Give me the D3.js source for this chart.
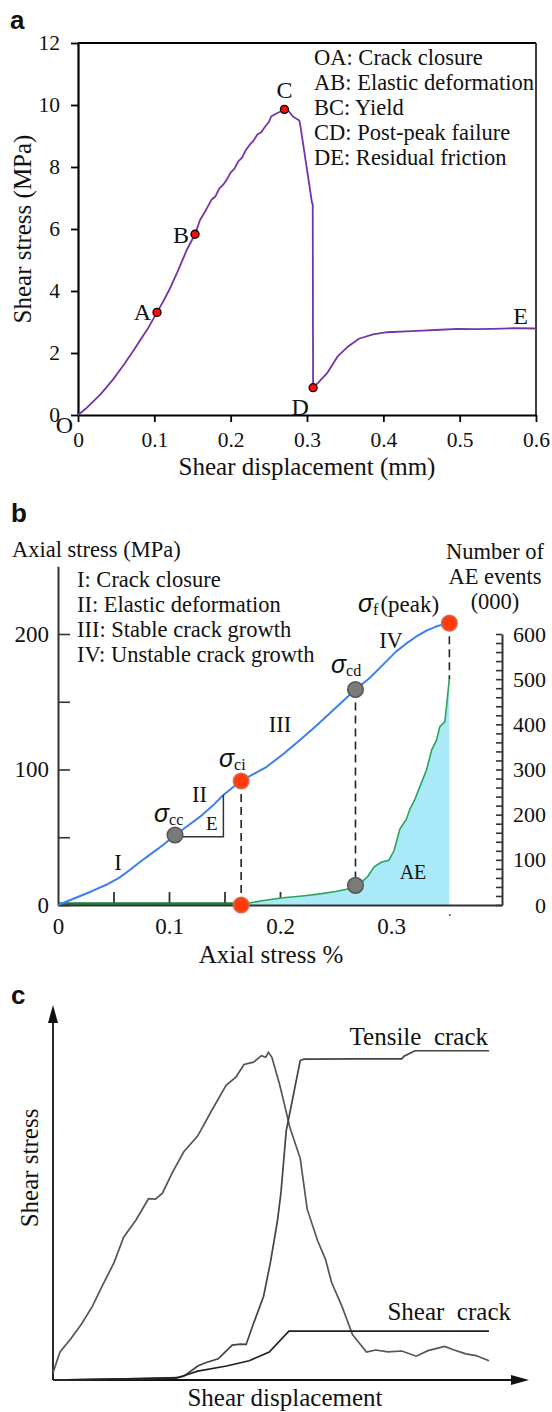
<!DOCTYPE html>
<html><head><meta charset="utf-8">
<script src="https://cdn.jsdelivr.net/npm/d3@7"></script>
<style>
body{margin:0;background:#fff;}
svg{display:block;}
text{font-family:"Liberation Serif","Times New Roman",serif;fill:#111;}
.plbl{font-family:"Liberation Sans",Arial,sans-serif;font-weight:bold;font-size:26px;}
</style></head><body>
<svg id="chart" width="552" height="1412"></svg>
<script>
// ---------- Panel a data ----------
const aDisp   = [0,0.01,0.0184,0.03,0.046,0.06,0.0736,0.085,0.092,0.1035,0.112,0.1196,0.13,0.1426,0.1533,0.16,0.165,0.17,0.175,0.18,0.185,0.19,0.195,0.2,0.205,0.21,0.215,0.22,0.225,0.23,0.235,0.24,0.245,0.25,0.253,0.258,0.262,0.266,0.2704,0.276,0.282,0.29,0.2915,0.3065,0.3075,0.308,0.315,0.3267,0.3405,0.3543,0.368,0.3865,0.405,0.43,0.451,0.475,0.497,0.52,0.543,0.57,0.6];
const aStress = [0,0.2,0.40,0.68,1.15,1.62,2.11,2.55,2.81,3.31,3.68,4.04,4.6,5.33,5.83,6.3,6.5,6.72,6.95,7.05,7.3,7.42,7.6,7.82,7.95,8.18,8.3,8.55,8.72,8.85,9.05,9.12,9.3,9.45,9.63,9.7,9.75,9.8,9.86,9.8,9.62,9.5,9.3,6.85,6.8,0.88,1.05,1.36,1.9,2.22,2.46,2.6,2.67,2.7,2.72,2.75,2.78,2.77,2.78,2.8,2.79];
const aPointNames = ["A","B","C","D"];
const aPointX = [0.1035,0.1533,0.2704,0.308];
const aPointY = [3.31,5.83,9.86,0.88];
const aXTicks = [0,0.1,0.2,0.3,0.4,0.5,0.6];
const aYTicks = [0,2,4,6,8,10,12];
const aPhases = ["OA: Crack closure","AB: Elastic deformation","BC: Yield","CD: Post-peak failure","DE: Residual friction"];

// ---------- Panel b data ----------
const bStrain = [0,0.015,0.03,0.045,0.055,0.065,0.075,0.085,0.095,0.1054,0.117,0.128,0.139,0.149,0.1637,0.176,0.188,0.203,0.218,0.233,0.248,0.268,0.28,0.29,0.3045,0.313,0.3225,0.332,0.3405,0.348,0.3526];
const bStress = [0,5,10,15.5,20,26,32.5,38.5,44.5,51.7,58.5,65.2,73,81.2,91,96.5,102,111.5,121.8,132.5,143.9,159,167,175,187,192.5,198,202.5,205.5,207.3,208];
const aeStrain = [0,0.165,0.171,0.185,0.203,0.22,0.2345,0.25,0.26,0.268,0.274,0.279,0.285,0.2916,0.298,0.3027,0.308,0.3138,0.317,0.3217,0.326,0.332,0.3366,0.341,0.344,0.3485,0.350,0.3515,0.3525,0.3525];
const aeCount  = [0,0,4,10,16,20,24,30,35,43,52,63,85,95,99,120,168,190,212,235,262,299,343,365,395,406,439,476,500,0];
const keyNames  = ["cc","ci","cd","f"];
const keyStrain = [0.1054,0.165,0.268,0.3526];
const keyStress = [51.7,91.5,159,208];
const keyColor  = ["gray","orange","gray","orange"];
const aeMarkStrain = [0.165,0.268];
const aeMarkCount  = [0,43.5];
const aeMarkColor  = ["orange","gray"];
const bPhases = ["I: Crack closure","II: Elastic deformation","III: Stable crack growth","IV: Unstable crack growth"];
const bStageNames = ["I","II","III","IV"];
const bStageX = [0.054,0.1275,0.2,0.3];
const bStageY = [26,76,128,190];
const bXLabels = [0,0.1,0.2,0.3];
const bXTicks = [0.05,0.1,0.15,0.2,0.25,0.3,0.35];
const bYTicks = [0,50,100,150,200];
const bRTicks = d3.range(0,601,20);

// ---------- Panel c data (schematic units) ----------
const cStressX = [0,1.6,4,6.5,9,11.3,14,16.2,19,21.9,23.5,25.1,27.4,30,33.2,36.5,39.7,42,43.8,46,47.8,48.8,49.4,50.2,51.9,53,54.3,56.7,58.3,60.7,62.5,63.9,66.3,68.7,71.9,74,76.8,80,83.3,86,89.8,92,94.7,97,100];
const cStressY = [2.2,8.6,12.5,17.1,22.5,28.9,36,43.8,49,55.6,55.5,57.3,63.7,70,74.9,82.9,90.4,93,96.8,97.5,99.5,99,100.5,99,91,85,77.6,68,52.4,42.7,37,29.9,22.5,13.9,8.6,9.2,8.6,8.9,7.3,9,10.3,9.2,8,7.5,5.9];
const cTensX = [0,10,20,28,30,33.2,35,37.9,41.1,43,44.3,45.9,48.3,49.9,51.5,52.3,53.5,55.1,56.7,57.5,70,80,80.5,83,100];
const cTensY = [0,0.2,0.4,0.6,1.2,4.3,5.3,6.5,10.7,11,10.9,17,25.7,36.3,49,57.7,76.5,87.2,98,98.4,98.5,98.5,99.3,101,101];
const cShearX = [0,10,20,28.6,33.2,39.8,45,49.6,54.1,100];
const cShearY = [0,0.2,0.4,0.7,2.7,4.3,5.9,8.6,15,15];

// ================= drawing =================
const svg = d3.select("#chart");
const ORANGE = "#ff3b0a", GRAY = "#7a7a7a";

// ---------- Panel a ----------
const xA = d3.scaleLinear([0,0.6],[78,536]);
const yA = d3.scaleLinear([0,12],[415,43]);
const ga = svg.append("g");
ga.append("text").attr("class","plbl").attr("x",10).attr("y",29).text("a");
ga.append("line").attr("x1",xA(0)).attr("x2",xA(0.6)).attr("y1",yA(12)).attr("y2",yA(12)).attr("stroke","#000").attr("stroke-width",2);
ga.append("line").attr("x1",xA(0.6)).attr("x2",xA(0.6)).attr("y1",yA(12)).attr("y2",yA(0)).attr("stroke","#000").attr("stroke-width",1.5);
const axA = ga.append("g").attr("transform",`translate(0,${yA(0)})`)
  .call(d3.axisBottom(xA).tickValues(aXTicks).tickSize(7).tickSizeOuter(0).tickPadding(10)
  .tickFormat(d=> d===0?"0":d3.format(".1f")(d)));
const ayA = ga.append("g").attr("transform",`translate(${xA(0)},0)`)
  .call(d3.axisLeft(yA).tickValues(aYTicks).tickSize(7).tickSizeOuter(0).tickPadding(11));
[axA,ayA].forEach(g=>{
  g.selectAll("path.domain").attr("stroke","#000").attr("stroke-width",2.2);
  g.selectAll(".tick line").attr("stroke","#000").attr("stroke-width",1.8);
  g.selectAll("text").attr("font-family","Liberation Serif").attr("font-size",21.5).attr("fill","#111");
});
ga.append("text").attr("x",307).attr("y",475).attr("text-anchor","middle").attr("font-size",25).text("Shear displacement (mm)");
ga.append("text").attr("transform","translate(31,229) rotate(-90)").attr("text-anchor","middle").attr("font-size",25).text("Shear stress (MPa)");
const lineA = d3.line().x((d,i)=>xA(aDisp[i])).y((d,i)=>yA(aStress[i]));
ga.append("path").attr("d",lineA(aDisp)).attr("fill","none").attr("stroke","#7434a8").attr("stroke-width",1.8).attr("stroke-linejoin","round");
ga.selectAll("circle.pt").data(aPointNames).join("circle").attr("class","pt")
  .attr("cx",(d,i)=>xA(aPointX[i])).attr("cy",(d,i)=>yA(aPointY[i])).attr("r",4)
  .attr("fill","#ff0a0a").attr("stroke","#000").attr("stroke-width",1.3);
const aLblDx = [-6,-6,0,-13], aLblDy = [8,9,-11,27], aLblAnchor=["end","end","middle","middle"];
ga.selectAll("text.ptl").data(aPointNames).join("text").attr("class","ptl")
  .attr("x",(d,i)=>xA(aPointX[i])+aLblDx[i]).attr("y",(d,i)=>yA(aPointY[i])+aLblDy[i])
  .attr("text-anchor",(d,i)=>aLblAnchor[i]).attr("font-size",24).text(d=>d);
ga.append("text").attr("x",xA(0)-5).attr("y",yA(0)+18).attr("text-anchor","end").attr("font-size",24).text("O");
ga.append("text").attr("x",xA(0.6)-8).attr("y",yA(aStress[aStress.length-1])-5).attr("text-anchor","end").attr("font-size",24).text("E");
ga.selectAll("text.leg").data(aPhases).join("text").attr("class","leg")
  .attr("x",314).attr("y",(d,i)=>65+i*25).attr("font-size",22.5).text(d=>d);

// ---------- Panel b ----------
const xB = d3.scaleLinear([0,0.4],[58,502]);
const yB = d3.scaleLinear([0,250],[905,566.25]);
const yR = d3.scaleLinear([0,600],[905,634]);
const gb = svg.append("g");
gb.append("text").attr("class","plbl").attr("x",11).attr("y",522).text("b");
const AXC = "#333";
gb.append("g").attr("transform",`translate(0,${yB(0)})`)
  .call(d3.axisBottom(xB).tickValues(bXTicks).tickSize(-13).tickFormat(""))
  .call(g=>{g.select(".domain").remove(); g.selectAll("line").attr("stroke",AXC).attr("stroke-width",1.8);});
const aeArea = d3.area().x((d,i)=>xB(aeStrain[i])).y0(yR(0)).y1((d,i)=>yR(aeCount[i]));
gb.append("path").attr("d",aeArea(aeStrain)).attr("fill","#a9e9f8");
gb.append("line").attr("x1",xB(0)).attr("x2",xB(0.165)).attr("y1",yR(0)-1).attr("y2",yR(0)-1).attr("stroke","#1d7d36").attr("stroke-width",3.5);
const aeLine = d3.line().x((d,i)=>xB(aeStrain[i])).y((d,i)=>yR(aeCount[i]));
gb.append("path").attr("d",aeLine(aeStrain.slice(1))).attr("fill","none").attr("stroke","#2aa55a").attr("stroke-width",1.6);
const dashEnds = [yR(0), yR(aeMarkCount[1]), yR(500)];
[1,2,3].forEach((k,j)=>{
  gb.append("line").attr("x1",xB(keyStrain[k])).attr("x2",xB(keyStrain[k]))
    .attr("y1",yB(keyStress[k])).attr("y2",dashEnds[j])
    .attr("stroke","#222").attr("stroke-width",1.6).attr("stroke-dasharray","8,5");
});
const axB = gb.append("g").attr("transform",`translate(0,${yB(0)})`)
  .call(d3.axisBottom(xB).tickValues(bXLabels).tickSize(0).tickSizeOuter(0).tickPadding(13).tickFormat(d=> d===0?"0":d3.format(".1f")(d)));
const ayB = gb.append("g").attr("transform",`translate(${xB(0)},0)`)
  .call(d3.axisLeft(yB).tickValues(bYTicks).tickSize(-12).tickSizeOuter(0).tickPadding(9).tickFormat(d=> d%100===0? d : ""));
const arB = gb.append("g").attr("transform",`translate(${xB(0.4)},0)`)
  .call(d3.axisRight(yR).tickValues(bRTicks).tickSize(-6).tickSizeOuter(0).tickFormat(d=> d%100===0? d : ""));
[axB,ayB,arB].forEach(g=>{
  g.selectAll("path.domain").attr("stroke",AXC).attr("stroke-width",2);
  g.selectAll(".tick line").attr("stroke",AXC).attr("stroke-width",1.6);
  g.selectAll("text").attr("font-family","Liberation Serif").attr("font-size",23).attr("fill","#111");
});
arB.selectAll(".tick text").attr("x",44).attr("text-anchor","end").attr("font-size",22);
gb.append("circle").attr("cx",xB(0.353)).attr("cy",915).attr("r",1).attr("fill","#555");
const lineB = d3.line().x((d,i)=>xB(bStrain[i])).y((d,i)=>yB(bStress[i]));
gb.append("path").attr("d",lineB(bStrain)).attr("fill","none").attr("stroke","#3b80ee").attr("stroke-width",2).attr("stroke-linejoin","round");
gb.append("path").attr("d",`M${xB(keyStrain[0])},${yB(50.4)}H${xB(0.149)}V${yB(81.2)}`).attr("fill","none").attr("stroke","#333").attr("stroke-width",1.5);
gb.append("text").attr("x",xB(0.1385)).attr("y",yB(55)).attr("text-anchor","middle").attr("font-family","Liberation Sans").attr("font-size",19).attr("fill","#2d2a66").text("E");
const col = c=> c==="gray"?GRAY:ORANGE;
gb.selectAll("circle.key").data(keyNames).join("circle").attr("class","key")
  .attr("cx",(d,i)=>xB(keyStrain[i])).attr("cy",(d,i)=>yB(keyStress[i])).attr("r",7.8)
  .attr("fill",(d,i)=>col(keyColor[i])).attr("stroke",(d,i)=>keyColor[i]==="gray"?"#555":"#d86a55").attr("stroke-width",1.5);
gb.selectAll("circle.aem").data(aeMarkStrain).join("circle").attr("class","aem")
  .attr("cx",(d,i)=>xB(d)).attr("cy",(d,i)=>yR(aeMarkCount[i])).attr("r",7.8)
  .attr("fill",(d,i)=>col(aeMarkColor[i])).attr("stroke",(d,i)=>aeMarkColor[i]==="gray"?"#555":"#d86a55").attr("stroke-width",1.5);
const sigX = [154,219,331,358], sigY=[822,767,673,612];
keyNames.forEach((n,i)=>{
  const t = gb.append("text").attr("x",sigX[i]).attr("y",sigY[i]);
  t.append("tspan").attr("font-family","Liberation Sans").attr("font-style","italic").attr("font-size",25).text("σ");
  t.append("tspan").attr("font-size",16).attr("dy",3).text(n);
  if(n==="f"){ t.append("tspan").attr("font-size",23).attr("dy",-3).attr("dx",2).text("(peak)"); }
});
gb.selectAll("text.stage").data(bStageNames).join("text").attr("class","stage")
  .attr("x",(d,i)=>xB(bStageX[i])).attr("y",(d,i)=>yB(bStageY[i])).attr("text-anchor","middle").attr("font-size",22.5).text(d=>d);
gb.append("text").attr("x",413).attr("y",879).attr("text-anchor","middle").attr("font-family","Liberation Sans").attr("font-size",20).attr("fill","#2d2a66").text("AE");
gb.selectAll("text.leg").data(bPhases).join("text").attr("class","leg")
  .attr("x",77).attr("y",(d,i)=>587+i*25).attr("font-size",22.5).text(d=>d);
gb.append("text").attr("x",12).attr("y",557).attr("font-size",22.5).text("Axial stress (MPa)");
gb.append("text").attr("x",271).attr("y",963).attr("text-anchor","middle").attr("font-size",25).text("Axial stress %");
["Number of","AE events","(000)"].forEach((s,i)=>{
  gb.append("text").attr("x",495).attr("y",559+i*25).attr("text-anchor","middle").attr("font-size",22.5).text(s);
});

// ---------- Panel c ----------
const xC = d3.scaleLinear([0,100],[53,489]);
const yC = d3.scaleLinear([0,100],[1380,1054]);
const gc = svg.append("g");
gc.append("text").attr("class","plbl").attr("x",11).attr("y",1004).text("c");
gc.append("line").attr("x1",xC(0)).attr("x2",xC(0)).attr("y1",yC(0)).attr("y2",1018).attr("stroke","#111").attr("stroke-width",1.8);
gc.append("path").attr("d",`M${xC(0)},1005 L${xC(0)-5},1023 L${xC(0)+5},1023 Z`).attr("fill","#111");
gc.append("line").attr("x1",xC(0)).attr("x2",516).attr("y1",yC(0)).attr("y2",yC(0)).attr("stroke","#111").attr("stroke-width",1.8);
gc.append("path").attr("d",`M529,${yC(0)} L511,${yC(0)-5} L511,${yC(0)+5} Z`).attr("fill","#111");
const mk = (X,Y)=> d3.line().x((d,i)=>xC(X[i])).y((d,i)=>yC(Y[i]))(X);
gc.append("path").attr("d",mk(cStressX,cStressY)).attr("fill","none").attr("stroke","#555").attr("stroke-width",1.7);
gc.append("path").attr("d",mk(cTensX,cTensY)).attr("fill","none").attr("stroke","#444").attr("stroke-width",1.7);
gc.append("path").attr("d",mk(cShearX,cShearY)).attr("fill","none").attr("stroke","#222").attr("stroke-width",1.7);
gc.append("text").attr("x",488).attr("y",1045).attr("text-anchor","end").attr("font-size",25).style("white-space","pre").text("Tensile  crack");
gc.append("text").attr("x",511).attr("y",1320).attr("text-anchor","end").attr("font-size",25).style("white-space","pre").text("Shear  crack");
gc.append("text").attr("transform","translate(38,1168) rotate(-90)").attr("text-anchor","middle").attr("font-size",25).text("Shear stress");
gc.append("text").attr("x",285).attr("y",1406).attr("text-anchor","middle").attr("font-size",25).text("Shear displacement");
</script></body></html>
